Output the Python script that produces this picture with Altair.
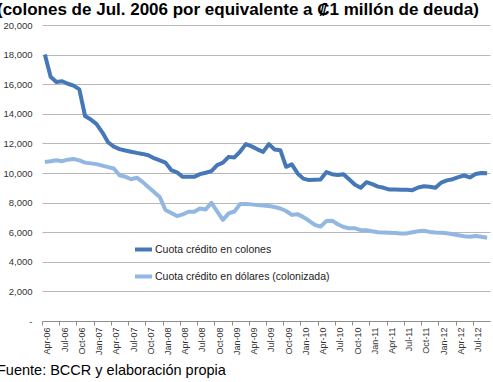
import altair as alt
import pandas as pd

# Categories: monthly, Apr-06 .. Sep-12
mes_nombres = ["Jan", "Feb", "Mar", "Apr", "May", "Jun", "Jul", "Aug", "Sep", "Oct", "Nov", "Dec"]
meses = []
for k in range(78):
    m = (3 + k) % 12
    a = 6 + (3 + k) // 12
    meses.append(f"{mes_nombres[m]}-{a:02d}")

colones = [18000, 16500, 16150, 16200, 16030, 15900, 15650, 13850, 13620, 13300,
           12750, 12080, 11780, 11610, 11520, 11440, 11360, 11290, 11200, 11000,
           10850, 10700, 10200, 10050, 9740, 9740, 9740, 9920, 10020, 10130,
           10530, 10700, 11090, 11050, 11450, 11950, 11800, 11600, 11430, 11950,
           11590, 11540, 10420, 10580, 9970, 9620, 9520, 9540, 9560, 10060,
           9920, 9860, 9920, 9560, 9200, 9000, 9380, 9250, 9080, 9000,
           8880, 8890, 8870, 8860, 8840, 9020, 9100, 9070, 9000, 9350,
           9500, 9580, 9720, 9830, 9700, 9930, 10000, 9980]

dolares = [10750, 10800, 10860, 10800, 10900, 10950, 10850, 10700, 10650, 10600,
           10500, 10400, 10300, 9850, 9750, 9580, 9680, 9400, 9050, 8720,
           8380, 7500, 7300, 7090, 7200, 7380, 7380, 7600, 7540, 7990,
           7400, 6830, 7270, 7400, 7900, 7900, 7880, 7830, 7800, 7770,
           7700, 7600, 7430, 7170, 7220, 7020, 6770, 6500, 6380, 6750,
           6780, 6540, 6350, 6260, 6260, 6140, 6130, 6060, 6000, 5980,
           5960, 5940, 5920, 5920, 6000, 6060, 6100, 6020, 5980, 5960,
           5930, 5860, 5800, 5730, 5700, 5740, 5690, 5620]

series = ["Cuota crédito en colones", "Cuota crédito en dólares (colonizada)"]
colores = ["#4678b8", "#92b7e2"]
y_ticks = list(range(0, 20001, 2000))

titulo = "(colones de Jul. 2006 por equivalente a \u20a11 millón de deuda)"
fuente = "Fuente: BCCR y elaboración propia"

rows = []
for i, m in enumerate(meses):
    rows.append({"mes": m, "serie": series[0], "valor": colones[i], "orden": 0})
for i, m in enumerate(meses):
    rows.append({"mes": m, "serie": series[1], "valor": dolares[i], "orden": 1})
df = pd.DataFrame(rows)

W, H = 448, 296
step = W / len(meses)
FONT = "Liberation Sans"

lines = alt.Chart(df).mark_line(strokeWidth=4, strokeJoin="round").encode(
    x=alt.X("mes:O", sort=meses,
            scale=alt.Scale(type="point", padding=0.5),
            axis=alt.Axis(values=meses[::3], title=None, labelAngle=-90,
                          labelFontSize=9, labelColor="#333333", labelFont=FONT,
                          domainColor="#8c8c8c", tickColor="#8c8c8c", tickSize=4,
                          labelPadding=2, tickOffset=-step / 2, labelOffset=step / 2 + 2,
                          grid=False)),
    y=alt.Y("valor:Q", scale=alt.Scale(domain=[0, 20000], nice=False),
            axis=alt.Axis(values=y_ticks, title=None, domain=False, ticks=False,
                          labelExpr="datum.value == 0 ? '-' : format(datum.value, ',')",
                          labelFontSize=9.5, labelColor="#333333", labelFont=FONT,
                          labelPadding=10, gridColor="#b8b8b8", gridWidth=1)),
    color=alt.Color("serie:N", scale=alt.Scale(domain=series, range=colores),
                    legend=alt.Legend(title=None, orient="none", legendX=91, legendY=214,
                                      symbolType="stroke", symbolStrokeWidth=4,
                                      symbolSize=289, labelFontSize=10.5,
                                      labelFont=FONT, labelColor="#222222",
                                      rowPadding=8, labelOffset=1, labelLimit=0)),
    order="orden:Q",
    detail="serie:N",
)

title_layer = alt.Chart(pd.DataFrame({"t": [titulo]})).mark_text(
    align="left", baseline="alphabetic", fontSize=17, fontWeight="bold",
    font=FONT, color="black"
).encode(text="t:N", x=alt.value(-45), y=alt.value(-10))

foot_layer = alt.Chart(pd.DataFrame({"t": [fuente]})).mark_text(
    align="left", baseline="alphabetic", fontSize=14.5,
    font=FONT, color="black"
).encode(text="t:N", x=alt.value(-45), y=alt.value(350))

chart = alt.layer(lines, title_layer, foot_layer).properties(
    width=W, height=H, autosize="none",
    padding={"left": 42, "top": 25, "right": 3, "bottom": 61},
    background="white"
).configure_view(stroke=None)

chart.save("out.html", embed_options={"renderer": "svg", "actions": False})
